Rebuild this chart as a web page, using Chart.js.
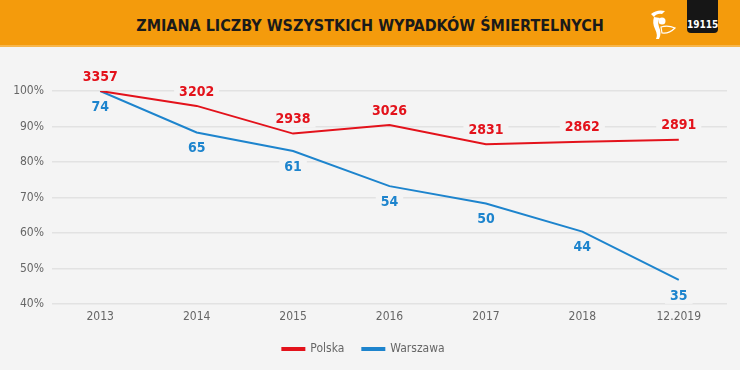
<!DOCTYPE html>
<html>
<head>
<meta charset="utf-8">
<script src="https://cdn.jsdelivr.net/npm/chart.js@4/dist/chart.umd.min.js"></script>
<style>
  html, body { margin: 0; padding: 0; background: #f4f4f4; }
  body { width: 740px; height: 370px; position: relative; overflow: hidden; font-family: "DejaVu Sans Condensed", "DejaVu Sans", sans-serif; }
  .header { position: absolute; left: 0; top: 0; width: 740px; height: 45px; background: #f49b0c; border-bottom: 2px solid #f7b64c; }
  .header h1 { margin: 0; position: absolute; left: 0; width: 740px; top: 16px; text-align: center; font-size: 16px; font-weight: bold; color: #1a1a1a; letter-spacing: 0; }
  .logo19 { position: absolute; left: 687px; top: 0; width: 31px; height: 33px; background: #161616; border-radius: 0 0 4px 4px; color: #fff; font-size: 10px; font-weight: bold; text-align: center; line-height: 12px; }
  .logo19 span { position: absolute; left: 0; width: 31px; top: 19px; }
  .chart-box { position: absolute; left: 0; top: 48px; width: 740px; height: 322px; }
</style>
</head>
<body>
<div class="header">
  <h1>ZMIANA LICZBY WSZYSTKICH WYPADKÓW ŚMIERTELNYCH</h1>
  <svg style="position:absolute;left:649px;top:8px" width="28" height="32" viewBox="0 0 28 32">
    <path d="M2 6 Q8 1 16 3 L13 6 Q8 5 5 9 Z" fill="#fff"/>
    <path d="M5 9 Q3 15 6 21 Q9 27 7 31 L10 31 Q13 25 10 19 Q8 13 11 10 Z" fill="#fff"/>
    <circle cx="13" cy="13" r="3.5" fill="#fff"/>
    <path d="M12 19 Q19 17 26 20 Q20 26 13 25 Z" fill="none" stroke="#fff" stroke-width="1.2"/>
  </svg>
  <div class="logo19"><span>19115</span></div>
</div>
<div class="chart-box"><canvas id="chart" width="740" height="322"></canvas></div>
<script>
// --- Data ---
const categories = ['2013', '2014', '2015', '2016', '2017', '2018', '12.2019'];
const polskaPct = [100, 95.8, 88.0, 90.4, 85.0, 85.7, 86.3];
const warszawaPct = [100, 88.3, 83.1, 73.2, 68.3, 60.4, 46.8];
const polskaCount = [3357, 3202, 2938, 3026, 2831, 2862, 2891];
const warszawaCount = [74, 65, 61, 54, 50, 44, 35];
const yMin = 40;
const yMax = 100;
const yStep = 10;

const RED = '#e3121b';
const BLUE = '#1d84cd';
const BG = '#f4f4f4';
const LABEL_FONT = 'bold 14px "DejaVu Sans Condensed", "DejaVu Sans", sans-serif';

// value labels: background patch hides grid lines, text drawn on top of lines
const labelSets = [
  { counts: polskaCount, color: RED, dy: -15 },
  { counts: warszawaCount, color: BLUE, dy: 15 },
];

function eachLabel(chart, fn) {
  const ctx = chart.ctx;
  ctx.save();
  ctx.font = LABEL_FONT;
  ctx.textAlign = 'center';
  ctx.textBaseline = 'middle';
  labelSets.forEach((s, i) => {
    chart.getDatasetMeta(i).data.forEach((pt, j) => {
      fn(ctx, String(s.counts[j]), pt.x, pt.y + s.dy, s.color);
    });
  });
  ctx.restore();
}

const valueLabels = {
  id: 'valueLabels',
  beforeDatasetsDraw(chart) {
    eachLabel(chart, (ctx, txt, x, y) => {
      const w = ctx.measureText(txt).width;
      ctx.fillStyle = BG;
      ctx.fillRect(x - w / 2 - 5, y - 9, w + 10, 18);
    });
  },
  afterDatasetsDraw(chart) {
    eachLabel(chart, (ctx, txt, x, y, color) => {
      ctx.fillStyle = color;
      ctx.fillText(txt, x, y + 1);
    });
  }
};

new Chart(document.getElementById('chart'), {
  type: 'line',
  data: {
    labels: categories,
    datasets: [
      { label: 'Polska', data: polskaPct, borderColor: RED, backgroundColor: RED, borderWidth: 2, pointRadius: 0, tension: 0 },
      { label: 'Warszawa', data: warszawaPct, borderColor: BLUE, backgroundColor: BLUE, borderWidth: 2, pointRadius: 0, tension: 0 },
    ],
  },
  options: {
    responsive: false,
    animation: false,
    layout: { padding: { top: 43, right: 13, left: 0, bottom: 5 } },
    scales: {
      x: {
        offset: true,
        grid: { display: false, drawTicks: false },
        border: { display: false },
        ticks: { color: '#666', font: { size: 12, family: '"DejaVu Sans Condensed", sans-serif' }, padding: 6 },
        afterFit: s => { s.height = 21; },
      },
      y: {
        min: yMin,
        max: yMax,
        ticks: { stepSize: yStep, color: '#666', padding: 8, font: { size: 12, family: '"DejaVu Sans Condensed", sans-serif' }, callback: v => v + '%' },
        grid: { color: '#e2e2e2', lineWidth: 1.5, drawTicks: false },
        border: { display: false },
        afterFit: s => { s.width = 52; },
      },
    },
    plugins: {
      legend: {
        position: 'bottom',
        labels: { boxWidth: 22, boxHeight: 2, color: '#666', padding: 18, font: { size: 12, family: '"DejaVu Sans Condensed", sans-serif' } },
      },
      tooltip: { enabled: false },
    },
  },
  plugins: [valueLabels],
});
</script>
</body>
</html>
